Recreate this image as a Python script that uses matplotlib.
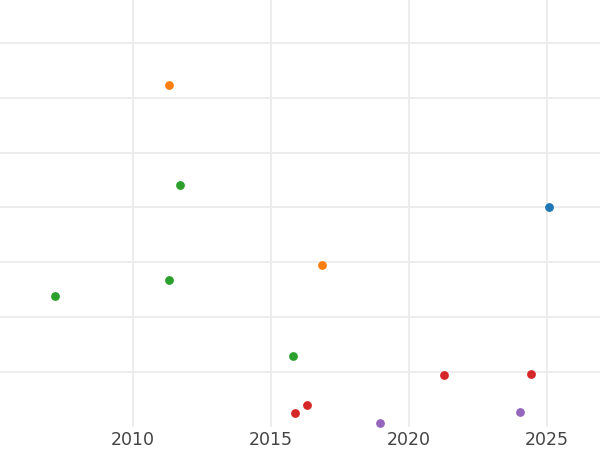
import matplotlib.pyplot as plt

# year, value for each colour group
blue_x, blue_y = [2025.08], [4.00]
orange_x, orange_y = [2011.32, 2016.86], [6.23, 2.95]
green_x = [2011.70, 2011.33, 2007.18, 2015.82]
green_y = [4.41, 2.67, 2.38, 1.30]
red_x = [2021.28, 2024.42, 2016.33, 2015.89]
red_y = [0.95, 0.97, 0.40, 0.25]
purple_x, purple_y = [2018.97, 2024.04], [0.07, 0.27]

xticks = [2010, 2015, 2020, 2025]

fig = plt.figure(figsize=(6, 4.5), dpi=100)
ax = fig.add_axes([0, 23 / 450, 1, 427 / 450])

groups = [
    (blue_x, blue_y, '#1f77b4'),
    (orange_x, orange_y, '#ff7f0e'),
    (green_x, green_y, '#2ca02c'),
    (red_x, red_y, '#d62728'),
    (purple_x, purple_y, '#9467bd'),
]
for gx, gy, c in groups:
    ax.scatter(gx, gy, s=40, color=c, linewidths=0, zorder=3)

ax.set_xlim(2005.19, 2026.93)
ax.set_ylim(0, 7.78)
ax.set_xticks(xticks)
ax.set_yticks([1, 2, 3, 4, 5, 6, 7])
ax.set_yticklabels([])
ax.grid(True, color='#ececec', linewidth=1.3)
ax.set_axisbelow(True)
for s in ax.spines.values():
    s.set_visible(False)
ax.tick_params(axis='both', length=0)
ax.tick_params(axis='x', labelsize=12.5, labelcolor='#444444', pad=3)

fig.savefig('out.png', dpi=100)
